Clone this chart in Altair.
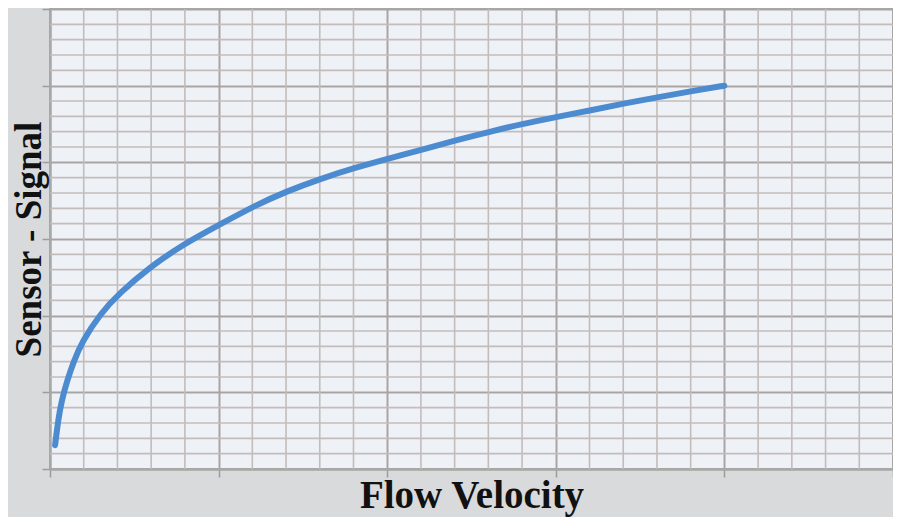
import altair as alt
import pandas as pd

# Curve (x: flow velocity units, y: signal units)
velocity = [0.03, 0.05, 0.07, 0.10, 0.14, 0.19, 0.30, 0.41, 0.59, 0.79, 1.00, 1.20, 1.40,
            1.61, 1.81, 2.01, 2.23, 2.41, 2.61, 2.80, 3.00, 3.21, 3.41, 3.61, 3.81, 4.00]
signal = [0.31, 0.66, 0.90, 1.14, 1.40, 1.66, 2.03, 2.29, 2.63, 2.93, 3.18, 3.42, 3.62,
          3.79, 3.93, 4.05, 4.18, 4.29, 4.40, 4.50, 4.59, 4.68, 4.77, 4.85, 4.93, 5.00]

# Grid positions
x_major = [0, 1, 2, 3, 4, 5]
y_major = [0, 1, 2, 3, 4, 5, 6]
x_minor = [0.2, 0.4, 0.6, 0.8, 1.2, 1.4, 1.6, 1.8, 2.2, 2.4, 2.6, 2.8,
           3.2, 3.4, 3.6, 3.8, 4.2, 4.4, 4.6, 4.8]
y_minor = [0.2, 0.4, 0.6, 0.8, 1.2, 1.4, 1.6, 1.8, 2.2, 2.4, 2.6, 2.8,
           3.2, 3.4, 3.6, 3.8, 4.2, 4.4, 4.6, 4.8, 5.2, 5.4, 5.6, 5.8]

curve = pd.DataFrame({"v": velocity, "s": signal})
xm = pd.DataFrame({"v": x_minor})
ym = pd.DataFrame({"s": y_minor})

xscale = alt.Scale(domain=[0, 5], nice=False, zero=False)
yscale = alt.Scale(domain=[0, 6], nice=False, zero=False)

FONT = "Liberation Serif"
GRID_MINOR = "#c3bcbb"
GRID_MAJOR = "#a9a4a4"
W, H = 843, 460

xaxis = alt.Axis(values=x_major, labels=False, ticks=True, tickSize=8, tickWidth=1.5,
                 tickColor="#9c9c9c", grid=True, gridColor=GRID_MAJOR, gridWidth=2,
                 domain=True, domainColor="#a8a8a8", domainWidth=2,
                 title="Flow Velocity", titleFont=FONT, titleFontSize=39,
                 titleFontWeight="bold", titleColor="#111111",
                 titleX=W / 2, titleY=38, titleBaseline="alphabetic", titleAlign="center")
yaxis = alt.Axis(values=y_major, labels=False, ticks=True, tickSize=8, tickWidth=1.5,
                 tickColor="#9c9c9c", grid=True, gridColor=GRID_MAJOR, gridWidth=2,
                 domain=True, domainColor="#a8a8a8", domainWidth=2,
                 title="Sensor - Signal", titleFont=FONT, titleFontSize=37,
                 titleFontWeight="bold", titleColor="#111111",
                 titleX=-10, titleY=H / 2, titleAngle=270, titleBaseline="alphabetic",
                 titleAlign="center")

vminor = alt.Chart(xm).mark_rule(color=GRID_MINOR, strokeWidth=1.6).encode(
    x=alt.X("v:Q", scale=xscale, axis=xaxis)
)
hminor = alt.Chart(ym).mark_rule(color=GRID_MINOR, strokeWidth=1.6).encode(
    y=alt.Y("s:Q", scale=yscale, axis=yaxis)
)
line = alt.Chart(curve).mark_line(color="#4d8bd0", strokeWidth=6, interpolate="basis",
                                  strokeCap="round").encode(
    x=alt.X("v:Q", scale=xscale, axis=xaxis),
    y=alt.Y("s:Q", scale=yscale, axis=yaxis),
)

chart = alt.layer(vminor, hminor, line).properties(
    width=W,
    height=H,
    background="#d9dadc",
    padding={"left": 42, "top": 1, "right": 0, "bottom": 48},
    autosize=alt.AutoSizeParams(type="none"),
).configure_view(fill="#eef2f7", stroke="#a8a8a8", strokeWidth=2)

chart.save("out.html", embed_options={"renderer": "svg", "actions": False})
